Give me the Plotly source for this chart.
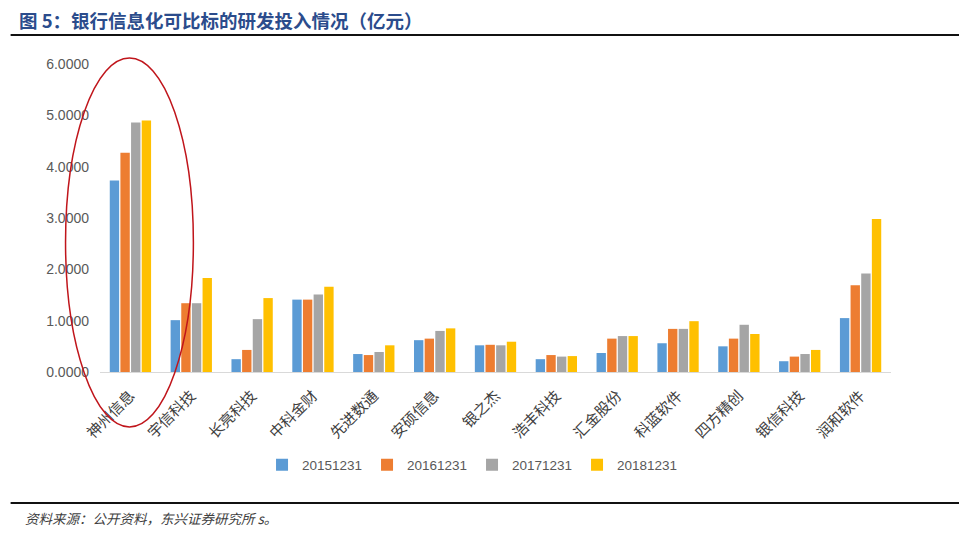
import plotly.graph_objects as go

categories = ["神州信息", "宇信科技", "长亮科技", "中科金财", "先进数通", "安硕信息", "银之杰",
              "浩丰科技", "汇金股份", "科蓝软件", "四方精创", "银信科技", "润和软件"]
series_names = ["20151231", "20161231", "20171231", "20181231"]
v2015 = [3.73, 1.01, 0.25, 1.41, 0.35, 0.62, 0.52, 0.25, 0.37, 0.56, 0.50, 0.21, 1.05]
v2016 = [4.27, 1.34, 0.43, 1.41, 0.33, 0.65, 0.53, 0.33, 0.65, 0.84, 0.65, 0.30, 1.69]
v2017 = [4.86, 1.34, 1.03, 1.51, 0.39, 0.80, 0.52, 0.30, 0.70, 0.84, 0.92, 0.35, 1.92]
v2018 = [4.90, 1.83, 1.44, 1.66, 0.52, 0.85, 0.59, 0.31, 0.70, 0.99, 0.74, 0.43, 2.98]
y_ticks = [0, 1, 2, 3, 4, 5, 6]

colors = ["#5B9BD5", "#ED7D31", "#A5A5A5", "#FFC000"]
values = [v2015, v2016, v2017, v2018]

fig = go.Figure()
for name, vals, c in zip(series_names, values, colors):
    fig.add_trace(go.Bar(x=categories, y=vals, name=name, marker=dict(color=c, line=dict(width=0))))

OFF = 8  # default page body margin
W, H = 967 - OFF, 533 - OFF
L, R, T, B = 99.5 - OFF, 891.5 - OFF, 64 - OFF, 372 - OFF
pw, ph = R - L, B - T

def px(x):
    return (x - OFF - L) / pw

def py(y):
    return (B - (y - OFF)) / ph

fig.update_layout(
    width=W, height=H,
    margin=dict(l=L, r=W - R, t=T, b=H - B, autoexpand=False),
    paper_bgcolor="white", plot_bgcolor="white",
    barmode="group", bargap=0.3, bargroupgap=0.12,
    font=dict(family="Liberation Sans, Arial, sans-serif", color="#595959"),
    xaxis=dict(tickangle=-45, tickfont=dict(family="Noto Sans CJK SC", size=15, color="#404040"),
               showline=True, linecolor="#D9D9D9", linewidth=1, ticks="", showgrid=False,
               ticklabelstandoff=8),
    yaxis=dict(range=[0, 6], tickvals=y_ticks, tickformat=".4f", showgrid=False, zeroline=False,
               showline=False, tickfont=dict(size=14, color="#595959"), ticks="", ticklabelstandoff=10),
    legend=dict(orientation="h", x=px(472), xanchor="center", y=py(465), yanchor="middle",
                font=dict(size=13.5, color="#595959"), itemwidth=30, traceorder="normal",
                entrywidth=60, entrywidthmode="pixels"),
    showlegend=True,
)

fig.add_annotation(text="<b>图 5：银行信息化可比标的研发投入情况（亿元）</b>", xref="paper", yref="paper",
                   x=px(16), y=py(20), xanchor="left", yanchor="middle", showarrow=False,
                   font=dict(family="Noto Sans CJK SC", size=18.5, color="#2B4C8C"))
fig.add_annotation(text="<i>资料来源：公开资料，东兴证券研究所 s。</i>", xref="paper", yref="paper",
                   x=px(22), y=py(518), xanchor="left", yanchor="middle", showarrow=False,
                   font=dict(family="Noto Sans CJK SC", size=13.5, color="#404040"))
fig.add_shape(type="line", xref="paper", yref="paper", x0=px(10), x1=px(967), y0=py(35), y1=py(35),
              line=dict(color="#111111", width=2))
fig.add_shape(type="line", xref="paper", yref="paper", x0=px(10), x1=px(967), y0=py(503), y1=py(503),
              line=dict(color="#111111", width=2))
fig.add_shape(type="circle", xref="paper", yref="paper", x0=px(65), x1=px(193), y0=py(58), y1=py(427),
              line=dict(color="#C0151B", width=1.5))

fig.write_html("out.html")
